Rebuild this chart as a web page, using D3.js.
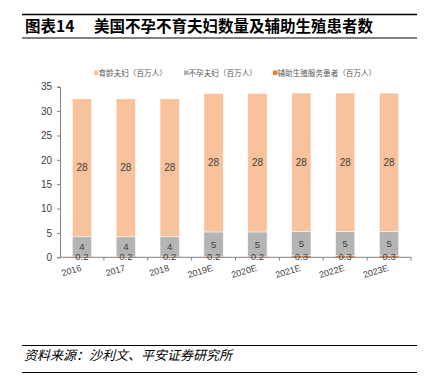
<!DOCTYPE html>
<html><head><meta charset="utf-8">
<script src="https://cdn.jsdelivr.net/npm/d3@7/dist/d3.min.js"></script>
<style>body{margin:0;background:#fff}svg{display:block}</style>
</head><body><svg id="c" width="431" height="381"></svg>
<script>
const categories = ["2016","2017","2018","2019E","2020E","2021E","2022E","2023E"];
const artPatients = [0.2,0.2,0.2,0.2,0.2,0.3,0.3,0.3];
const infertileCouples = [4,4,4,5,5,5,5,5];
const fertileCouples = [28.3,28.3,28.3,28.4,28.4,28.4,28.4,28.4];
const yTicks = [0,5,10,15,20,25,30,35];
const seriesNames = ["育龄夫妇（百万人）","不孕夫妇（百万人）","辅助生殖服务患者（百万人）"];
const colors = {art:"#ED7D31", inf:"#B4B4B4", fer:"#F8C29C"};

const svg = d3.select("#c");
const font = "'Liberation Sans', Arial, 'Noto Sans CJK SC', sans-serif";
const cjk = "'Noto Sans CJK SC', 'Liberation Sans', sans-serif";

// header rules & title
svg.append("line").attr("x1",22).attr("x2",417).attr("y1",14.5).attr("y2",14.5).attr("stroke","#000").attr("stroke-width",1.5);
svg.append("line").attr("x1",22).attr("x2",417).attr("y1",38).attr("y2",38).attr("stroke","#000").attr("stroke-width",1);
svg.append("text").attr("x",25).attr("y",32).attr("font-family",cjk).attr("font-size",15.5).attr("font-weight","bold").attr("fill","#000").text("图表14");
svg.append("text").attr("x",94).attr("y",32).attr("font-family",cjk).attr("font-size",15.5).attr("font-weight","bold").attr("fill","#000").text("美国不孕不育夫妇数量及辅助生殖患者数");

// footer
svg.append("line").attr("x1",22).attr("x2",417).attr("y1",345.5).attr("y2",345.5).attr("stroke","#000").attr("stroke-width",1);
svg.append("line").attr("x1",22).attr("x2",417).attr("y1",372.5).attr("y2",372.5).attr("stroke","#000").attr("stroke-width",1);
svg.append("text").attr("x",24).attr("y",360).attr("font-family",cjk).attr("font-size",13).attr("font-style","italic").attr("fill","#000")
  .text("资料来源：沙利文、平安证券研究所");

// scales
const x = d3.scaleBand().domain(categories).range([60,411]).paddingInner(0.56).paddingOuter(0.28);
const y = d3.scaleLinear().domain([0,35]).range([257.3,86.7]);

// y axis
const yAxis = svg.append("g").attr("transform","translate(60,0)")
  .call(d3.axisLeft(y).tickValues(yTicks).tickSize(3).tickPadding(5));
yAxis.select(".domain").attr("stroke","#808080");
yAxis.selectAll(".tick line").attr("stroke","#808080");
yAxis.selectAll("text").attr("font-family",font).attr("font-size",10).attr("fill","#404040");

// bars
const data = categories.map((c,i)=>({c, art:artPatients[i], inf:infertileCouples[i], fer:fertileCouples[i]}));
const stack = d3.stack().keys(["art","inf","fer"])(data);
const g = svg.append("g");
stack.forEach(s=>{
  g.selectAll(null).data(s).enter().append("rect")
    .attr("x",d=>x(d.data.c)).attr("width",x.bandwidth())
    .attr("y",d=>y(d[1])).attr("height",d=>y(d[0])-y(d[1]))
    .attr("fill",colors[s.key]).attr("stroke","#fff").attr("stroke-width",s.key==="art"?0:0.5);
});

// x axis
const xAxisScale = d3.scalePoint().domain(d3.range(categories.length+1)).range([60,411]);
svg.append("line").attr("x1",60).attr("x2",411).attr("y1",257.3).attr("y2",257.3).attr("stroke","#808080");
svg.selectAll(".xt").data(d3.range(1,categories.length+1)).enter().append("line")
  .attr("x1",d=>xAxisScale(d)).attr("x2",d=>xAxisScale(d)).attr("y1",257.3).attr("y2",260.5).attr("stroke","#808080");
svg.selectAll(".xl").data(categories).enter().append("text")
  .attr("transform",d=>`translate(${x(d)+x.bandwidth()/2},${270.5}) rotate(-17)`)
  .attr("text-anchor","end").attr("font-family",font).attr("font-size",9).attr("fill","#404040")
  .text(d=>d);

// labels
const lab = svg.append("g").attr("font-family",font).attr("font-size",10).attr("fill","#404040").attr("text-anchor","middle");
stack.forEach(s=>{
  const fmt = s.key==="art" ? d3.format(".1f") : d3.format(".0f");
  lab.selectAll(null).data(s).enter().append("text")
    .attr("x",d=>x(d.data.c)+x.bandwidth()/2)
    .attr("y",d=>s.key==="art" ? y(0)+3 : (y(d[0])+y(d[1]))/2+3.5)
    .attr("font-size",s.key==="fer"?10:9.5)
    .text(d=>fmt(d.data[s.key]));
});

// legend
const legendX = [94,184,273];
const legendColors = [colors.fer, colors.inf, colors.art];
seriesNames.forEach((n,i)=>{
  svg.append("rect").attr("x",legendX[i]).attr("y",70.5).attr("width",4.5).attr("height",4.5).attr("fill",legendColors[i]);
  svg.append("text").attr("x",legendX[i]+4.5).attr("y",75.8).attr("font-family",cjk).attr("font-size",7.6).attr("fill","#595959").text(n);
});
</script></body></html>
